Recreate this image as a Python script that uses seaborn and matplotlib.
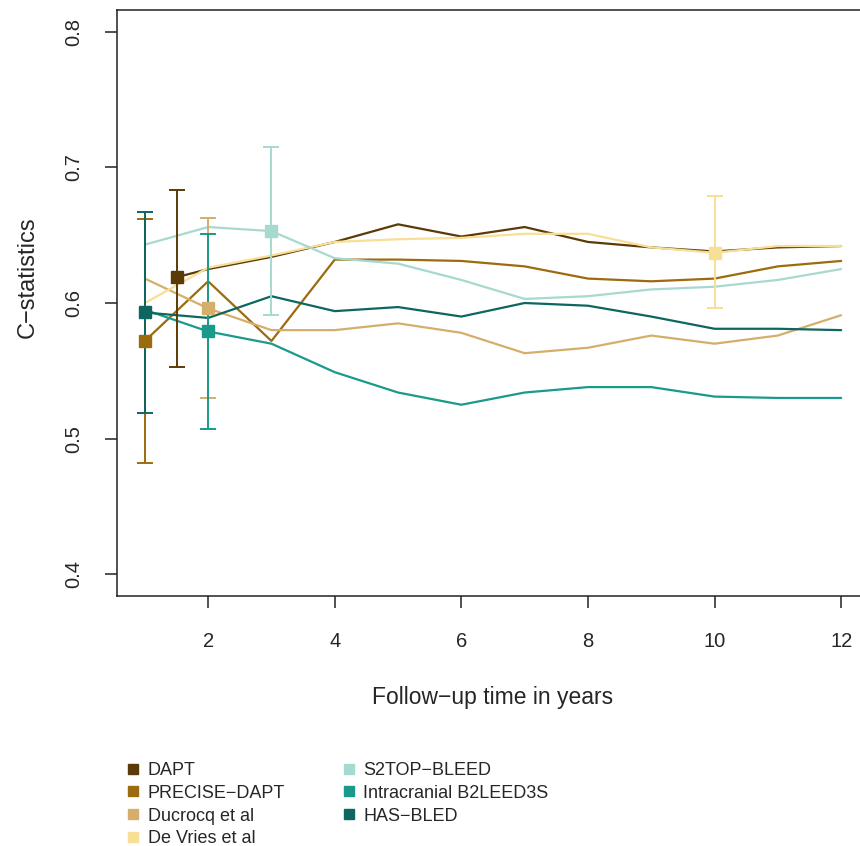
import matplotlib
matplotlib.use("Agg")
import matplotlib.pyplot as plt
from matplotlib.lines import Line2D
import pandas as pd
import seaborn as sns

sns.set_style("ticks")
plt.rcParams["font.family"] = ["Liberation Sans", "DejaVu Sans"]

MODELS = [
    "DAPT",
    "PRECISE\u2212DAPT",
    "Ducrocq et al",
    "De Vries et al",
    "S2TOP\u2212BLEED",
    "Intracranial B2LEED3S",
    "HAS\u2212BLED",
]
COLORS = ["#5c3a07", "#9c6b0e", "#d6ae6c", "#f8df96", "#a6d9cf", "#1a9a8a", "#0d6660"]

YEARS = [1, 2, 3, 4, 5, 6, 7, 8, 9, 10, 11, 12]
DAPT_YEARS = [1.5, 2, 3, 4, 5, 6, 7, 8, 9, 10, 11, 12]

dapt = [0.619, 0.625, 0.634, 0.645, 0.658, 0.649, 0.656, 0.645, 0.641, 0.638, 0.641, 0.642]
precise_dapt = [0.572, 0.616, 0.572, 0.632, 0.632, 0.631, 0.627, 0.618, 0.616, 0.618, 0.627, 0.631]
ducrocq = [0.618, 0.596, 0.580, 0.580, 0.585, 0.578, 0.563, 0.567, 0.576, 0.570, 0.576, 0.591]
de_vries = [0.600, 0.626, 0.635, 0.645, 0.647, 0.648, 0.651, 0.651, 0.641, 0.637, 0.642, 0.642]
s2top_bleed = [0.643, 0.656, 0.653, 0.633, 0.629, 0.617, 0.603, 0.605, 0.610, 0.612, 0.617, 0.625]
intracranial = [0.595, 0.579, 0.570, 0.549, 0.534, 0.525, 0.534, 0.538, 0.538, 0.531, 0.530, 0.530]
has_bled = [0.593, 0.589, 0.605, 0.594, 0.597, 0.590, 0.600, 0.598, 0.590, 0.581, 0.581, 0.580]

# estimate with 95% CI at each score's own horizon
EST_YEAR = [1.5, 1, 2, 10, 3, 2, 1]
EST = [0.619, 0.572, 0.596, 0.637, 0.653, 0.579, 0.593]
CI_LO = [0.553, 0.482, 0.530, 0.596, 0.591, 0.507, 0.519]
CI_HI = [0.683, 0.662, 0.663, 0.679, 0.715, 0.651, 0.667]

series = [dapt, precise_dapt, ducrocq, de_vries, s2top_bleed, intracranial, has_bled]
frames = []
for name, vals in zip(MODELS, series):
    xs = DAPT_YEARS if name == "DAPT" else YEARS
    frames.append(pd.DataFrame({"year": xs, "cstat": vals, "model": name}))
df = pd.concat(frames, ignore_index=True)

fig = plt.figure(figsize=(8.6, 8.46), dpi=100)
ax = fig.add_axes([117 / 860, 250 / 846, 752 / 860, 586 / 846])

sns.lineplot(
    data=df, x="year", y="cstat", hue="model", hue_order=MODELS,
    palette=COLORS, estimator=None, linewidth=1.6, legend=False, ax=ax,
)

for i, name in enumerate(MODELS):
    ax.errorbar(
        [EST_YEAR[i]], [EST[i]],
        yerr=[[EST[i] - CI_LO[i]], [CI_HI[i] - EST[i]]],
        fmt="s", color=COLORS[i], ms=8, capsize=6,
        elinewidth=1.4, capthick=1.4, zorder=3,
    )

ax.set_xlim(0.56, 12.44)
ax.set_ylim(0.384, 0.816)
ax.set_xticks([2, 4, 6, 8, 10, 12])
ax.set_yticks([0.4, 0.5, 0.6, 0.7, 0.8])
ax.set_yticklabels(["0.4", "0.5", "0.6", "0.7", "0.8"], rotation=90, va="center")
ax.set_xlabel("")
ax.set_ylabel("")
for sp in ax.spines.values():
    sp.set_visible(True)
    sp.set_color("#222222")
    sp.set_linewidth(1.1)
ax.tick_params(axis="both", length=8.6, width=1.1, color="#222222", labelsize=14.5)
ax.tick_params(axis="x", pad=17.5)
ax.tick_params(axis="y", pad=16)

fig.text(493 / 860, 1 - 697 / 846, "Follow\u2212up time in years",
         ha="center", va="center", fontsize=16.5)
fig.text(28 / 860, 1 - 277 / 846, "C\u2212statistics",
         ha="center", va="center", rotation=90, fontsize=17)

handles = [
    Line2D([], [], linestyle="none", marker="s", markersize=6.5, color=c)
    for c in COLORS
]
fig.legend(
    handles, MODELS, loc="upper left", bbox_to_anchor=(126 / 860, 1 - 762 / 846),
    ncol=2, frameon=False, fontsize=13, handlelength=0.8, handletextpad=0.4,
    labelspacing=0.32, columnspacing=3.15, borderaxespad=0, borderpad=0,
)

fig.savefig("out.png", dpi=100)
